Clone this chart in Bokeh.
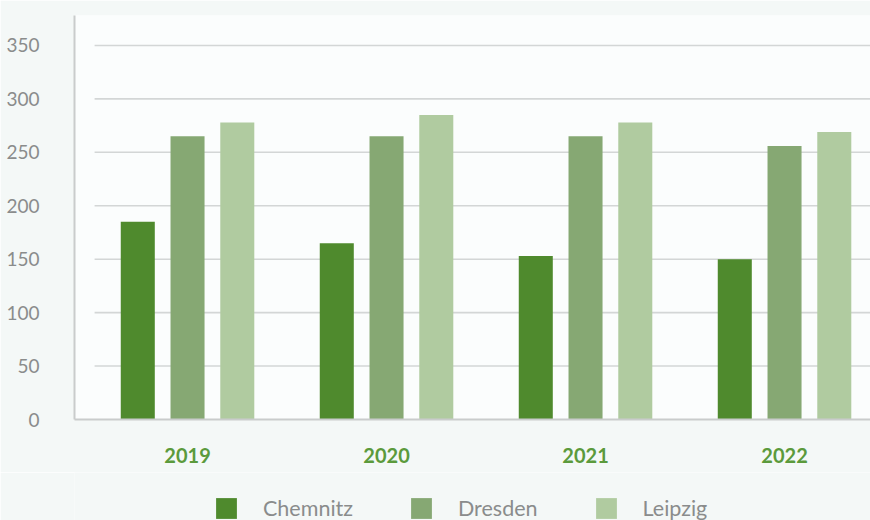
from bokeh.plotting import figure
from bokeh.layouts import column
from bokeh.models import Range1d, FixedTicker, Legend, LegendItem, ColumnDataSource
from bokeh.transform import dodge
from bokeh.embed import file_html
from bokeh.resources import INLINE

years = ["2019", "2020", "2021", "2022"]
chemnitz = [185, 165, 153, 150]
dresden = [265, 265, 265, 256]
leipzig = [278, 285, 278, 269]
series = ["Chemnitz", "Dresden", "Leipzig"]
colors = ["#4f8a2d", "#86a873", "#b0cba0"]
y_ticks = [0, 50, 100, 150, 200, 250, 300, 350]

BG = "#f4f8f7"
FRAME = "#fbfdfd"
GRID = "#d3d6d6"
AXIS = "#c9cccc"
LABEL = "#8a8c8c"
FONT = "Lato"

idx = list(range(len(years)))
src = ColumnDataSource(dict(x=idx, chemnitz=chemnitz, dresden=dresden, leipzig=leipzig))

p = figure(width=870, height=472, output_backend="svg", toolbar_location=None,
           x_range=Range1d(-0.568, 3.432), y_range=Range1d(0, 378),
           min_border_left=74, min_border_top=15, min_border_right=0, min_border_bottom=53,
           background_fill_color=FRAME, border_fill_color=BG)
p.outline_line_color = None
p.xgrid.visible = False
p.ygrid.visible = False

# gridlines (they start a little right of the axis line)
grid_y = [t for t in y_ticks if t > 0]
p.segment(x0=[-0.467] * len(grid_y), x1=[3.5] * len(grid_y), y0=grid_y, y1=grid_y,
          line_color=GRID, line_width=1.6)

w = 0.171
offsets = [-0.25, 0.0, 0.25]
fields = ["chemnitz", "dresden", "leipzig"]
for f, off, c in zip(fields, offsets, colors):
    p.vbar(x=dodge("x", off), top=f, width=w, source=src, fill_color=c, line_color=None)

ya = p.yaxis[0]
ya.ticker = FixedTicker(ticks=y_ticks)
ya.axis_line_color = AXIS
ya.axis_line_width = 2
ya.major_tick_line_color = None
ya.minor_tick_line_color = None
ya.major_label_standoff = 29
ya.major_label_text_font = FONT
ya.major_label_text_font_size = "19px"
ya.major_label_text_color = LABEL

xa = p.xaxis[0]
xa.ticker = FixedTicker(ticks=idx)
xa.major_label_overrides = {i: y for i, y in zip(idx, years)}
xa.axis_line_color = AXIS
xa.axis_line_width = 2
xa.major_tick_line_color = None
xa.minor_tick_line_color = None
xa.major_label_standoff = 22
xa.major_label_text_font = FONT
xa.major_label_text_font_size = "20px"
xa.major_label_text_font_style = "bold"
xa.major_label_text_color = "#5b9a3c"

# legend strip below the chart (swatch renderers lie outside the visible range)
lg = figure(width=870, height=48, output_backend="svg", toolbar_location=None,
            x_range=Range1d(0, 1), y_range=Range1d(0, 1),
            x_axis_location=None, y_axis_location=None,
            min_border_left=0, min_border_top=0, min_border_right=0, min_border_bottom=0,
            background_fill_color=BG, border_fill_color=BG)
lg.outline_line_color = None
lg.grid.visible = False
items = []
for name, c in zip(series, colors):
    r = lg.vbar(x=[-5], top=[0], width=0.1, fill_color=c, line_color=None)
    items.append(LegendItem(label=name, renderers=[r]))
legend = Legend(items=items, orientation="horizontal", location=(139, -1),
                glyph_width=26, glyph_height=26, label_standoff=24, spacing=55,
                padding=0, margin=0, border_line_color=None, background_fill_alpha=0,
                label_text_font=FONT, label_text_font_size="21.5px",
                label_text_color=LABEL, label_height=26)
lg.add_layout(legend, "center")

layout = column(p, lg, spacing=0)
html = file_html(layout, INLINE)
html = html.replace("<body>", '<body style="background:%s">' % BG, 1)
open("out.html", "w").write(html)
